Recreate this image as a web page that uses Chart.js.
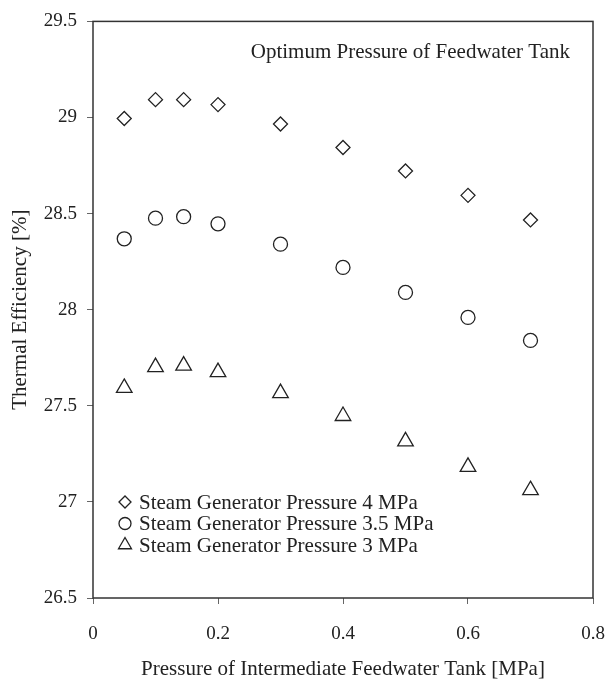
<!DOCTYPE html>
<html>
<head>
<meta charset="utf-8">
<title>Optimum Pressure of Feedwater Tank</title>
<script src="https://cdn.jsdelivr.net/npm/chart.js@4.4.1/dist/chart.umd.min.js"></script>
<style>
  html, body { margin: 0; padding: 0; background: #fff; }
  #wrap { width: 606px; height: 682px; }
</style>
</head>
<body>
<div id="wrap"><canvas id="myChart" width="606" height="682"></canvas></div>
<script>
// values
const feedTankPressure = [0.05, 0.1, 0.145, 0.2, 0.3, 0.4, 0.5, 0.6, 0.7];
const eff4MPa = [28.995, 29.093, 29.093, 29.067, 28.966, 28.844, 28.722, 28.595, 28.467];
const eff35MPa = [28.369, 28.476, 28.484, 28.447, 28.341, 28.22, 28.09, 27.96, 27.84];
const eff3MPa = [27.593, 27.701, 27.709, 27.675, 27.566, 27.447, 27.315, 27.182, 27.061];
const seriesNames = ['Steam Generator Pressure 4 MPa', 'Steam Generator Pressure 3.5 MPa', 'Steam Generator Pressure 3 MPa'];
const chartTitle = 'Optimum Pressure of Feedwater Tank';
const xTitle = 'Pressure of Intermediate Feedwater Tank [MPa]';
const yTitle = 'Thermal Efficiency [%]';

const FONT = "'Liberation Serif', 'Times New Roman', serif";
const INK = '#222';

function toPoints(xs, ys) {
    return xs.map(function (x, i) { return { x: x, y: ys[i] }; });
}

function makeSet(label, ys, style, radius) {
    return {
        label: label,
        data: toPoints(feedTankPressure, ys),
        pointStyle: style,
        pointRadius: radius,
        pointHoverRadius: radius,
        pointBorderWidth: 1.3,
        borderColor: INK,
        backgroundColor: 'rgba(0,0,0,0)',
        showLine: false
    };
}

// tick text like "29" / "29.5", not "29.0"
function plainNumber(value) {
    return String(parseFloat(Number(value).toFixed(2)));
}

// frame round the plot + the title and legend inside it
const framePlugin = {
    id: 'frameAndNotes',
    afterDraw: function (chart) {
        const ctx = chart.ctx;
        const a = chart.chartArea;
        ctx.save();
        ctx.strokeStyle = '#333';
        ctx.lineWidth = 1.5;
        ctx.strokeRect(a.left, a.top, a.right - a.left, a.bottom - a.top);

        ctx.fillStyle = INK;
        ctx.font = '21px ' + FONT;
        ctx.textBaseline = 'middle';
        ctx.textAlign = 'right';
        ctx.fillText(chartTitle, 570, 52);

        // legend rows
        ctx.textAlign = 'left';
        const rowY = [502, 523.5, 545];
        const legendRadius = [6, 6, 7.5];
        chart.data.datasets.forEach(function (ds, i) {
            ctx.strokeStyle = INK;
            ctx.lineWidth = 1.3;
            ctx.fillStyle = 'rgba(0,0,0,0)';
            Chart.helpers.drawPoint(ctx, { pointStyle: ds.pointStyle, radius: legendRadius[i], borderWidth: 1.3 }, 125, rowY[i]);
            ctx.fillStyle = INK;
            ctx.fillText(ds.label, 139, rowY[i] + 1);
        });
        ctx.restore();
    }
};

var ctx = document.getElementById('myChart').getContext('2d');
var myChart = new Chart(ctx, {
    type: 'scatter',
    data: {
        datasets: [
            makeSet(seriesNames[0], eff4MPa, 'rectRot', 7),
            makeSet(seriesNames[1], eff35MPa, 'circle', 7),
            makeSet(seriesNames[2], eff3MPa, 'triangle', 9)
        ]
    },
    options: {
        responsive: false,
        animation: false,
        devicePixelRatio: 1,
        layout: { padding: { left: 0, right: 13, top: 20, bottom: 0 } },
        plugins: {
            legend: { display: false },
            tooltip: { enabled: false }
        },
        scales: {
            x: {
                type: 'linear',
                min: 0,
                max: 0.8,
                afterFit: function (s) {
                    s.height = 84;
                    s.paddingLeft = 0;
                    s.paddingRight = 0;
                },
                ticks: { stepSize: 0.2, color: INK, font: { family: FONT, size: 19 }, padding: 19, callback: plainNumber },
                grid: { drawOnChartArea: false, drawTicks: true, tickLength: 6, color: '#666' },
                border: { display: false },
                title: { display: true, text: xTitle, color: INK, font: { family: FONT, size: 21 }, padding: { top: 0, bottom: 0 } }
            },
            y: {
                min: 26.5,
                max: 29.5,
                afterFit: function (s) { s.width = 93; },
                ticks: { stepSize: 0.5, color: INK, font: { family: FONT, size: 19 }, padding: 10, callback: plainNumber },
                grid: { drawOnChartArea: false, drawTicks: true, tickLength: 6, color: '#666' },
                border: { display: false },
                title: { display: true, text: yTitle, color: INK, font: { family: FONT, size: 21 }, padding: { top: 8, bottom: 0 } }
            }
        }
    },
    plugins: [framePlugin]
});
</script>
</body>
</html>
